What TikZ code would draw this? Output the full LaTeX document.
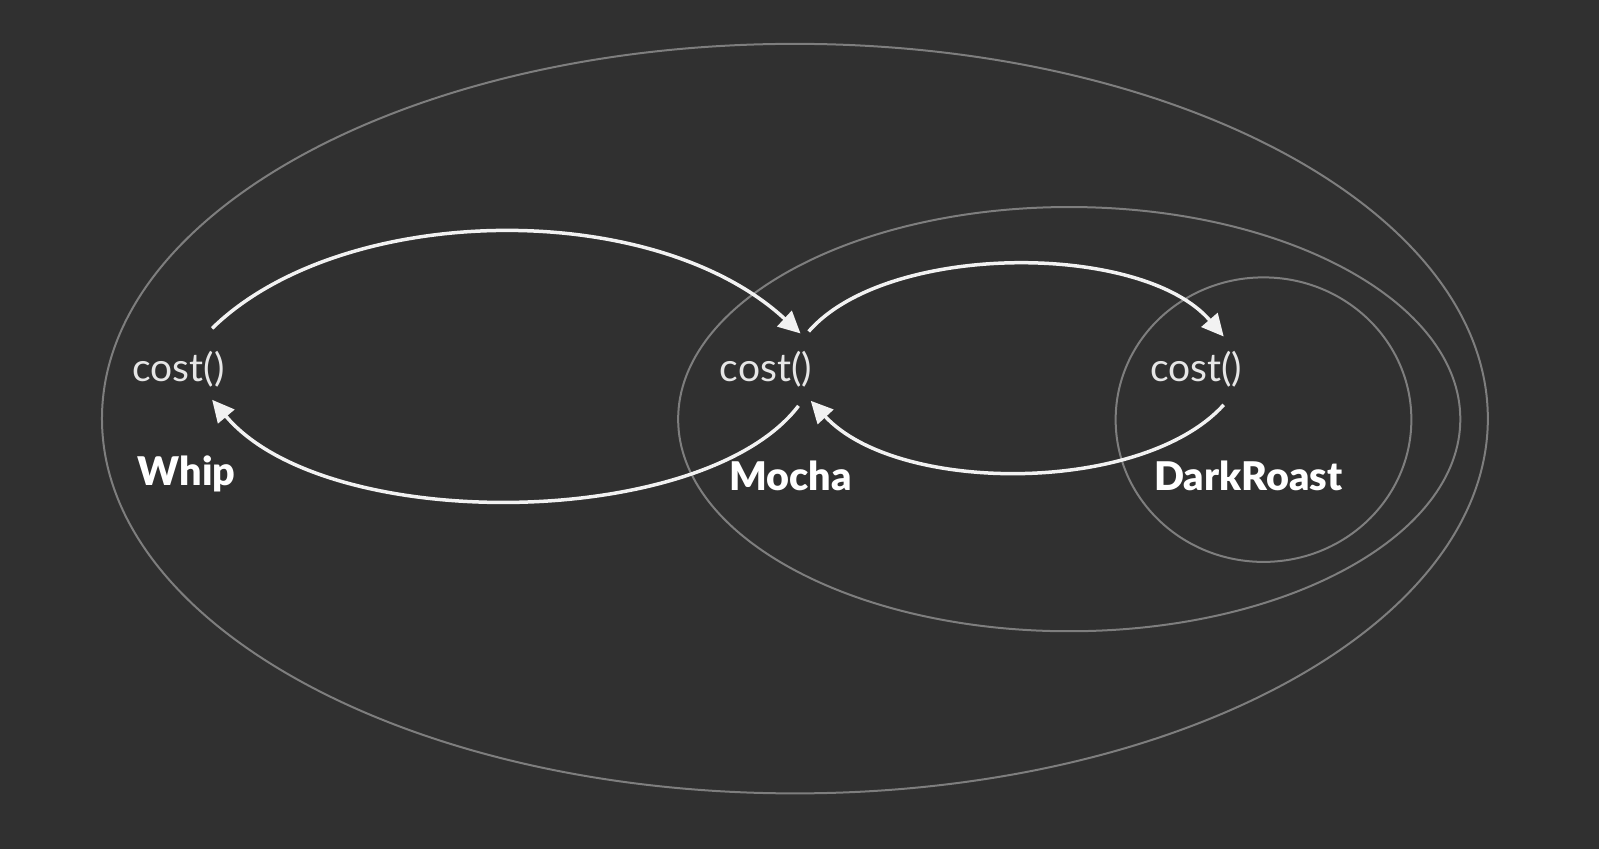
\documentclass[tikz,border=0pt]{standalone}
\usepackage{fontspec}
\setmainfont{Lato}
\IfFontExistsTF{Lato Black}{\newfontfamily\heavyfont{Lato Black}}{\newfontfamily\heavyfont{Lato}[UprightFont=* Bold]}
\usetikzlibrary{arrows.meta}
\definecolor{bg}{HTML}{303030}
\definecolor{ring}{HTML}{7E7E7E}
\definecolor{arr}{HTML}{F2F2F2}
\definecolor{txt}{HTML}{E6E6E6}
\tikzset{
  ringline/.style={draw=ring, line width=2pt},
  flow/.style={draw=arr, line width=3.5pt, -{Triangle[length=22pt,width=21pt]}},
  methodtxt/.style={text=txt, font=\fontsize{39}{44}\selectfont, inner sep=0pt},
  nametxt/.style={text=white, font=\fontsize{39.5}{44}\heavyfont, inner sep=0pt}
}
\begin{document}
\begin{tikzpicture}[x=1.0198pt,y=-1.0198pt]
\useasboundingbox (0,0) rectangle (1568,832.5);
\fill[bg] (0,0) rectangle (1568,832.5);
% containers
\draw[ringline] (779.5,410.5) ellipse [x radius=679.5, y radius=367.5];
\draw[ringline] (1048.5,411) ellipse [x radius=383.5, y radius=208];
\draw[ringline] (1239,411.5) ellipse [x radius=145, y radius=139.5];
% texts
\node[methodtxt] (wc) at (175,362) {cost()};
\node[methodtxt] (mc) at (751,362) {cost()};
\node[methodtxt] (dc) at (1173,362) {cost()};
\node[nametxt] (wn) at (183,465) {Whip};
\node[nametxt] (mn) at (775,467) {Mocha};
\node[nametxt] (dn) at (1224,467) {DarkRoast};
% connector ends
\coordinate (w1) at (208,322);
\coordinate (w2) at (208,392);
\coordinate (m1) at (785,327);
\coordinate (m2) at (783,398);
\coordinate (m3) at (793,325);
\coordinate (m4) at (795,393);
\coordinate (d1) at (1200,330);
\coordinate (d2) at (1200,397);
% arrows
\draw[flow] (w1) .. controls (335,198) and (640,193) .. (m1);
\draw[flow] (m2) .. controls (690,520) and (320,525) .. (w2);
\draw[flow] (m3) .. controls (870,237) and (1120,237) .. (d1);
\draw[flow] (d2) .. controls (1120,485) and (880,485) .. (m4);
\end{tikzpicture}
\end{document}
